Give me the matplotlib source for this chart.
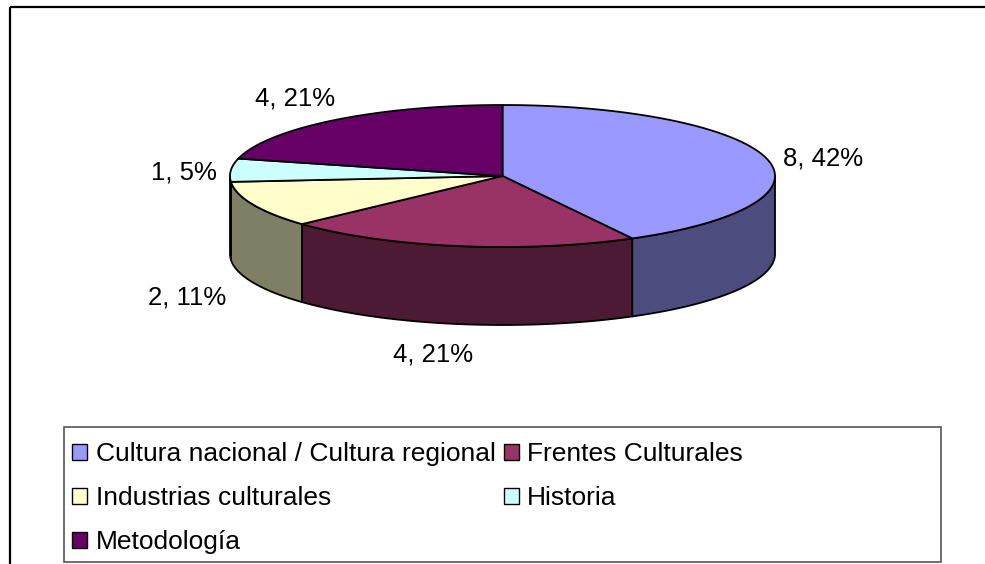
import numpy as np
import matplotlib
matplotlib.use("Agg")
import matplotlib.pyplot as plt
from matplotlib.patches import Polygon, Rectangle, Patch

plt.rcParams['font.family'] = ['Liberation Sans', 'DejaVu Sans']

categories = ["Cultura nacional / Cultura regional", "Frentes Culturales",
              "Industrias culturales", "Historia", "Metodología"]
values = [8, 4, 2, 1, 4]
top_colors = ['#9999FF', '#993366', '#FFFFCC', '#CCFFFF', '#660066']
side_colors = ['#4C4C7F', '#4C1A33', '#7F7F66', '#667F7F', '#330033']

# pie geometry in pixels (flattened excel-style 3d pie)
CX, CY = 502.5, 176.0
RX, RY = 272.5, 71.0
DEPTH = 78

# where each value label sits relative to its slice edge (pixels, y down)
label_offsets = [(16, 0, 'left', 'center'), (-25, 18, 'center', 'top'),
                 (-27, 15, 'right', 'center'), (-14, 2, 'right', 'center'),
                 (0, -21, 'right', 'center')]


def project(alpha):
    """alpha in degrees, clockwise from the back of the pie."""
    a = np.radians(alpha)
    return CX + RX * np.sin(a), CY - RY * np.cos(a)


def main():
    fig = plt.figure(figsize=(9.85, 5.64), dpi=100)
    ax = fig.add_axes([0, 0, 1, 1])
    ax.set_xlim(0, 985)
    ax.set_ylim(564, 0)
    ax.axis('off')

    ax.add_patch(Rectangle((10, 7), 990, 570, fill=False, edgecolor='black',
                           lw=1.6, clip_on=False))

    total = sum(values)
    bounds = np.concatenate([[0], np.cumsum(values)]) / total * 360

    # side walls (front half only)
    for i in range(len(values)):
        lo = max(bounds[i], 90)
        hi = min(bounds[i + 1], 270)
        if hi <= lo:
            continue
        al = np.linspace(lo, hi, 80)
        xs, ys = project(al)
        pts = np.column_stack([np.concatenate([xs, xs[::-1]]),
                               np.concatenate([ys, ys[::-1] + DEPTH])])
        ax.add_patch(Polygon(pts, closed=True, facecolor=side_colors[i],
                             edgecolor='black', lw=1.3, joinstyle='round'))

    # top face
    for i in range(len(values)):
        al = np.linspace(bounds[i], bounds[i + 1], 120)
        xs, ys = project(al)
        pts = np.column_stack([np.concatenate([[CX], xs]),
                               np.concatenate([[CY], ys])])
        ax.add_patch(Polygon(pts, closed=True, facecolor=top_colors[i],
                             edgecolor='black', lw=1.3, joinstyle='round'))

    # value labels
    for i, v in enumerate(values):
        mid = (bounds[i] + bounds[i + 1]) / 2
        x, y = project(mid)
        if -np.cos(np.radians(mid)) > 0:
            y += DEPTH
        dx, dy, ha, va = label_offsets[i]
        pct = round(v / total * 100)
        ax.annotate(f"{v}, {pct}%", (x, y), xytext=(dx, -dy),
                    textcoords='offset pixels', ha=ha, va=va, fontsize=18.5)

    # legend
    ax.add_patch(Rectangle((64, 427), 877, 135, fill=False,
                           edgecolor='#555555', lw=1.2))
    handles = [Patch(facecolor=c, edgecolor='black', lw=1.0) for c in top_colors]
    order = [0, 2, 4, 1, 3]
    ax.legend([handles[k] for k in order], [categories[k] for k in order],
              ncol=2, loc='upper left', bbox_to_anchor=(72, 442),
              bbox_transform=ax.transData, frameon=False, fontsize=19,
              borderpad=0, borderaxespad=0, handlelength=0.57,
              handleheight=0.57, handletextpad=0.33, columnspacing=0.3,
              labelspacing=0.76)

    fig.savefig("out.png", dpi=100)


if __name__ == "__main__":
    main()
